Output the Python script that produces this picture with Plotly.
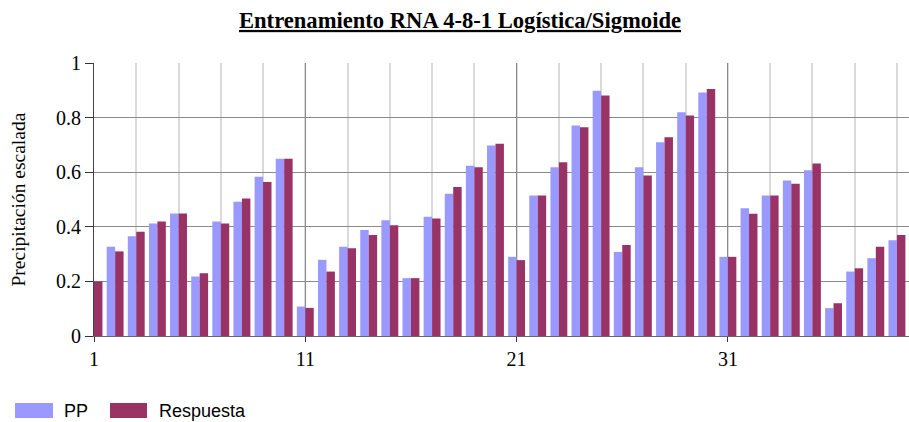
import plotly.graph_objects as go

# Scaled precipitation: observed (PP) vs network output (Respuesta)
casos = list(range(1, 40))
pp = [0.20, 0.327, 0.365, 0.412, 0.449, 0.218, 0.419, 0.492, 0.583, 0.649,
      0.108, 0.279, 0.327, 0.388, 0.424, 0.212, 0.437, 0.521, 0.624, 0.698,
      0.290, 0.515, 0.618, 0.771, 0.898, 0.308, 0.618, 0.710, 0.820, 0.892,
      0.290, 0.468, 0.515, 0.570, 0.607, 0.102, 0.236, 0.285, 0.351]
respuesta = [0.200, 0.310, 0.382, 0.419, 0.449, 0.230, 0.412, 0.504, 0.564, 0.649,
             0.103, 0.236, 0.321, 0.370, 0.406, 0.212, 0.430, 0.546, 0.618, 0.704,
             0.278, 0.515, 0.636, 0.765, 0.881, 0.333, 0.588, 0.728, 0.808, 0.905,
             0.290, 0.448, 0.515, 0.558, 0.632, 0.120, 0.248, 0.327, 0.370]
x_ticks = [1, 11, 21, 31]
y_ticks = [0, 0.2, 0.4, 0.6, 0.8, 1]
y_labels = ["0", "0.2", "0.4", "0.6", "0.8", "1"]

COL_PP = "#9999FF"
COL_RESP = "#993366"
SERIF = "Liberation Serif, Times New Roman, serif"
SANS = "Liberation Sans, Arial, sans-serif"

W, H = 909, 422
L, R, T, B = 94, 0, 63, 86
PW, PH = W - L - R, H - T - B


def px(xp):
    return (xp - L) / PW


def py(yp):
    return (H - B - yp) / PH


fig = go.Figure()
fig.add_trace(go.Bar(x=casos, y=pp, name="PP", marker_color=COL_PP,
                     marker_line_width=0, showlegend=False))
fig.add_trace(go.Bar(x=casos, y=respuesta, name="Respuesta", marker_color=COL_RESP,
                     marker_line_width=0, showlegend=False))

# legend drawn as wide swatches with labels below the plot
legend_items = [("PP", COL_PP, 15, 53, 62), ("Respuesta", COL_RESP, 110, 147, 157)]
for label, col, x0, x1, xt in legend_items:
    fig.add_shape(type="rect", xref="paper", yref="paper",
                  x0=px(x0), x1=px(x1), y0=py(418), y1=py(403),
                  fillcolor=col, line_width=0, layer="above")
    fig.add_annotation(text=label, xref="paper", yref="paper",
                       x=px(xt), y=py(411), xanchor="left", yanchor="middle",
                       showarrow=False, font=dict(family=SANS, size=18, color="#000"))

fig.add_annotation(text="Precipitación escalada", xref="paper", yref="paper",
                   x=px(18), y=0.5, textangle=-90, showarrow=False,
                   xanchor="center", yanchor="middle",
                   font=dict(family=SERIF, size=19.5, color="#000"))

fig.update_layout(
    width=W, height=H,
    margin=dict(l=L, r=R, t=T, b=B, pad=0),
    paper_bgcolor="white", plot_bgcolor="white",
    barmode="group", bargap=0.2, bargroupgap=0,
    title=dict(text="<b><u>Entrenamiento RNA 4-8-1 Logística/Sigmoide</u></b>",
               x=460 / W, xref="container", xanchor="center",
               y=1 - 20 / H, yref="container", yanchor="middle",
               font=dict(family=SERIF, size=22.6, color="#000")),
    xaxis=dict(range=[1, 1 + (W - L) / 21.13], tickmode="array", tickvals=x_ticks,
               ticktext=[str(v) for v in x_ticks],
               ticks="outside", ticklen=5, tickcolor="#333", tickwidth=1,
               showgrid=True, gridcolor="#8a8a8a", gridwidth=1,
               minor=dict(tick0=1, dtick=2, showgrid=True, gridcolor="#dadada",
                          gridwidth=2, ticks=""),
               showline=True, linecolor="#666", linewidth=1,
               zeroline=False,
               tickfont=dict(family=SERIF, size=20, color="#000")),
    yaxis=dict(range=[0, 1], tickmode="array", tickvals=y_ticks, ticktext=y_labels,
               ticks="outside", ticklen=8, tickcolor="#333", tickwidth=1,
               showgrid=True, gridcolor="#8a8a8a", gridwidth=1,
               showline=True, linecolor="#444", linewidth=1,
               zeroline=False,
               tickfont=dict(family=SERIF, size=20, color="#000")),
)

fig.write_html("out.html")
